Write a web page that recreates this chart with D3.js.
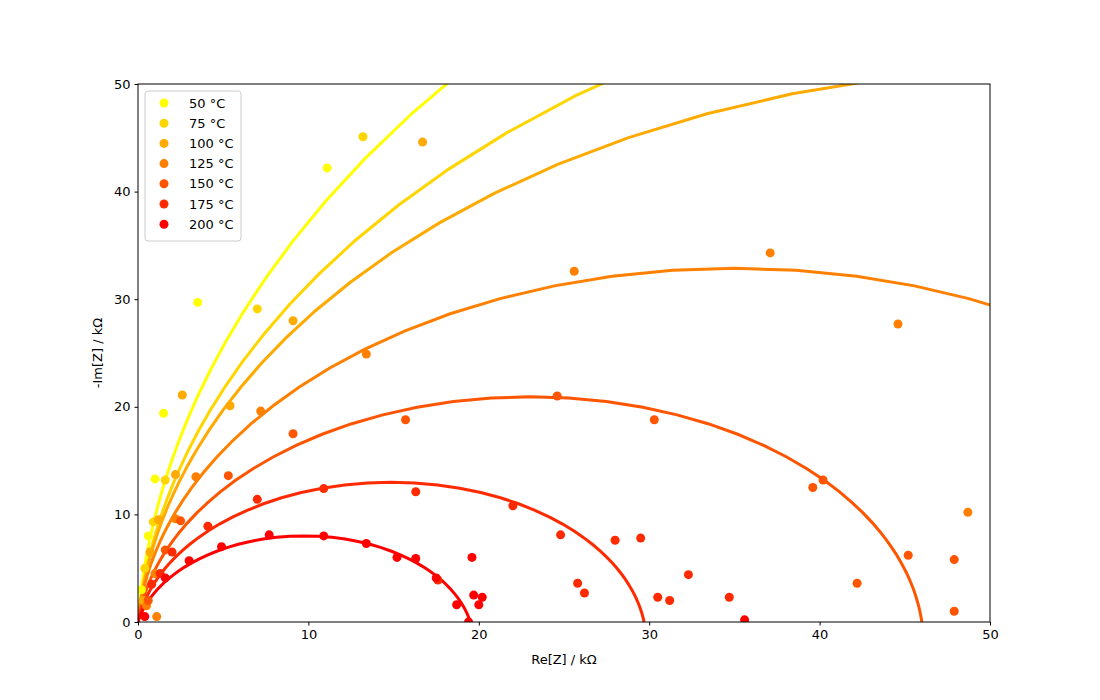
<!DOCTYPE html>
<html><head><meta charset="utf-8">
<script src="https://cdn.jsdelivr.net/npm/d3@7"></script>
<style>body{margin:0;background:#fff}text{font-family:"DejaVu Sans",sans-serif}</style>
</head><body><div id="chart"></div>
<script>
const temps = ['50 °C', '75 °C', '100 °C', '125 °C', '150 °C', '175 °C', '200 °C']
const colors = ['#ffff00', '#ffd500', '#ffaa00', '#ff8000', '#ff5500', '#ff2a00', '#ff0000']
// fit parameters per temperature: resistance (kΩ) and depression exponent
const fitR = [180, 135, 110, 70, 46, 29.7, 19.5]
const fitAlpha = [0.97, 0.96, 0.96, 0.96, 0.94, 0.915, 0.875]
// measured points [Re, -Im] in kΩ
const pts50 = [[0.2,3],[0.6,8],[1.0,13.3],[1.5,19.4],[3.5,29.7],[11.1,42.2]]
const pts75 = [[0.4,5],[0.9,9.3],[1.6,13.2],[7.0,29.1],[13.2,45.1]]
const pts100 = [[0.3,2],[0.7,6.5],[1.2,9.5],[2.2,13.7],[2.6,21.1],[5.4,20.1],[9.1,28],[16.7,44.6]]
const pts125 = [[0.5,1.5],[1.0,4.5],[2.2,9.6],[3.4,13.5],[7.2,19.6],[13.4,24.9],[25.6,32.6],[37.1,34.3],[44.6,27.7],[48.7,10.2],[1.1,0.5]]
const pts150 = [[0.6,2.0],[1.6,6.7],[2.5,9.4],[5.3,13.6],[9.1,17.5],[15.7,18.8],[24.6,21.0],[30.3,18.8],[39.6,12.5],[40.2,13.2],[42.2,3.6],[45.2,6.2],[47.9,5.8],[47.9,1.0]]
const pts175 = [[0.8,3.5],[1.3,4.5],[2.0,6.5],[4.1,8.9],[7.0,11.4],[10.9,12.4],[16.3,12.1],[22.0,10.8],[24.8,8.1],[25.8,3.6],[26.2,2.7],[28.0,7.6],[29.5,7.8],[30.5,2.3],[31.2,2.0],[32.3,4.4],[34.7,2.3],[17.6,3.9]]
const pts200 = [[0.4,0.5],[1.6,4.1],[3.0,5.7],[4.9,7.0],[7.7,8.1],[10.9,8.0],[13.4,7.3],[15.2,6.0],[16.3,5.9],[17.5,4.1],[18.7,1.6],[19.4,0],[19.6,6.0],[19.7,2.5],[20.0,1.6],[20.2,2.3],[35.6,0.2]]
const allPts = [pts50, pts75, pts100, pts125, pts150, pts175, pts200]

const W = 1100, H = 700
const m = {top: 84, right: 110, bottom: 78, left: 138}
const svg = d3.select('#chart').append('svg').attr('width', W).attr('height', H)
const x = d3.scaleLinear().domain([0, 50]).range([m.left, W - m.right])
const y = d3.scaleLinear().domain([0, 50]).range([H - m.bottom, m.top])

svg.append('clipPath').attr('id', 'clip').append('rect')
  .attr('x', m.left).attr('y', m.top).attr('width', W - m.left - m.right).attr('height', H - m.top - m.bottom)

// ZARC fit curve, sampled on log-spaced omega*tau
function zarc(R, a) {
  const out = []
  for (let k = -4; k <= 4.001; k += 0.05) {
    const w = Math.pow(10, k)
    const wa = Math.pow(w, a)
    const re = 1 + wa * Math.cos(a * Math.PI / 2)
    const im = wa * Math.sin(a * Math.PI / 2)
    const d = re * re + im * im
    out.push([R * re / d, R * im / d])
  }
  return out
}
const line = d3.line().x(d => x(d[0])).y(d => y(d[1]))
const g = svg.append('g').attr('clip-path', 'url(#clip)')
fitR.forEach((R, i) => {
  g.append('path').attr('d', line(zarc(R, fitAlpha[i]))).attr('fill', 'none')
    .attr('stroke', colors[i]).attr('stroke-width', 3)
})
allPts.forEach((p, i) => {
  g.selectAll(null).data(p).enter().append('circle')
    .attr('cx', d => x(d[0])).attr('cy', d => y(d[1])).attr('r', 4.5).attr('fill', colors[i])
})

const ticks = [0, 10, 20, 30, 40, 50]
const xa = svg.append('g').attr('transform', `translate(0,${H - m.bottom})`)
  .call(d3.axisBottom(x).tickValues(ticks).tickSizeOuter(0).tickSize(3.5).tickPadding(4))
const ya = svg.append('g').attr('transform', `translate(${m.left},0)`)
  .call(d3.axisLeft(y).tickValues(ticks).tickSizeOuter(0).tickSize(3.5).tickPadding(4))
;[xa, ya].forEach(a => { a.selectAll('text').attr('font-size', 13).attr('fill', '#000'); a.select('.domain').remove() })
svg.append('rect').attr('x', m.left).attr('y', m.top).attr('width', W - m.left - m.right)
  .attr('height', H - m.top - m.bottom).attr('fill', 'none').attr('stroke', '#000').attr('stroke-width', 1)

svg.append('text').attr('x', (m.left + W - m.right) / 2).attr('y', 664).attr('text-anchor', 'middle')
  .attr('font-size', 13).text('Re[Z] / kΩ')
svg.append('text').attr('transform', `translate(102,${(m.top + H - m.bottom) / 2}) rotate(-90)`)
  .attr('text-anchor', 'middle').attr('font-size', 13).text('-Im[Z] / kΩ')

// legend
const lg = svg.append('g').attr('transform', `translate(${m.left + 7},${m.top + 7})`)
lg.append('rect').attr('width', 96).attr('height', 150).attr('rx', 3).attr('fill', '#fff')
  .attr('fill-opacity', 0.8).attr('stroke', '#ccc')
temps.forEach((t, i) => {
  const row = lg.append('g').attr('transform', `translate(0,${12 + i * 20.2})`)
  row.append('circle').attr('cx', 19).attr('cy', 0).attr('r', 4.5).attr('fill', colors[i])
  row.append('text').attr('x', 44).attr('y', 4.5).attr('font-size', 13).text(t)
})
</script></body></html>
